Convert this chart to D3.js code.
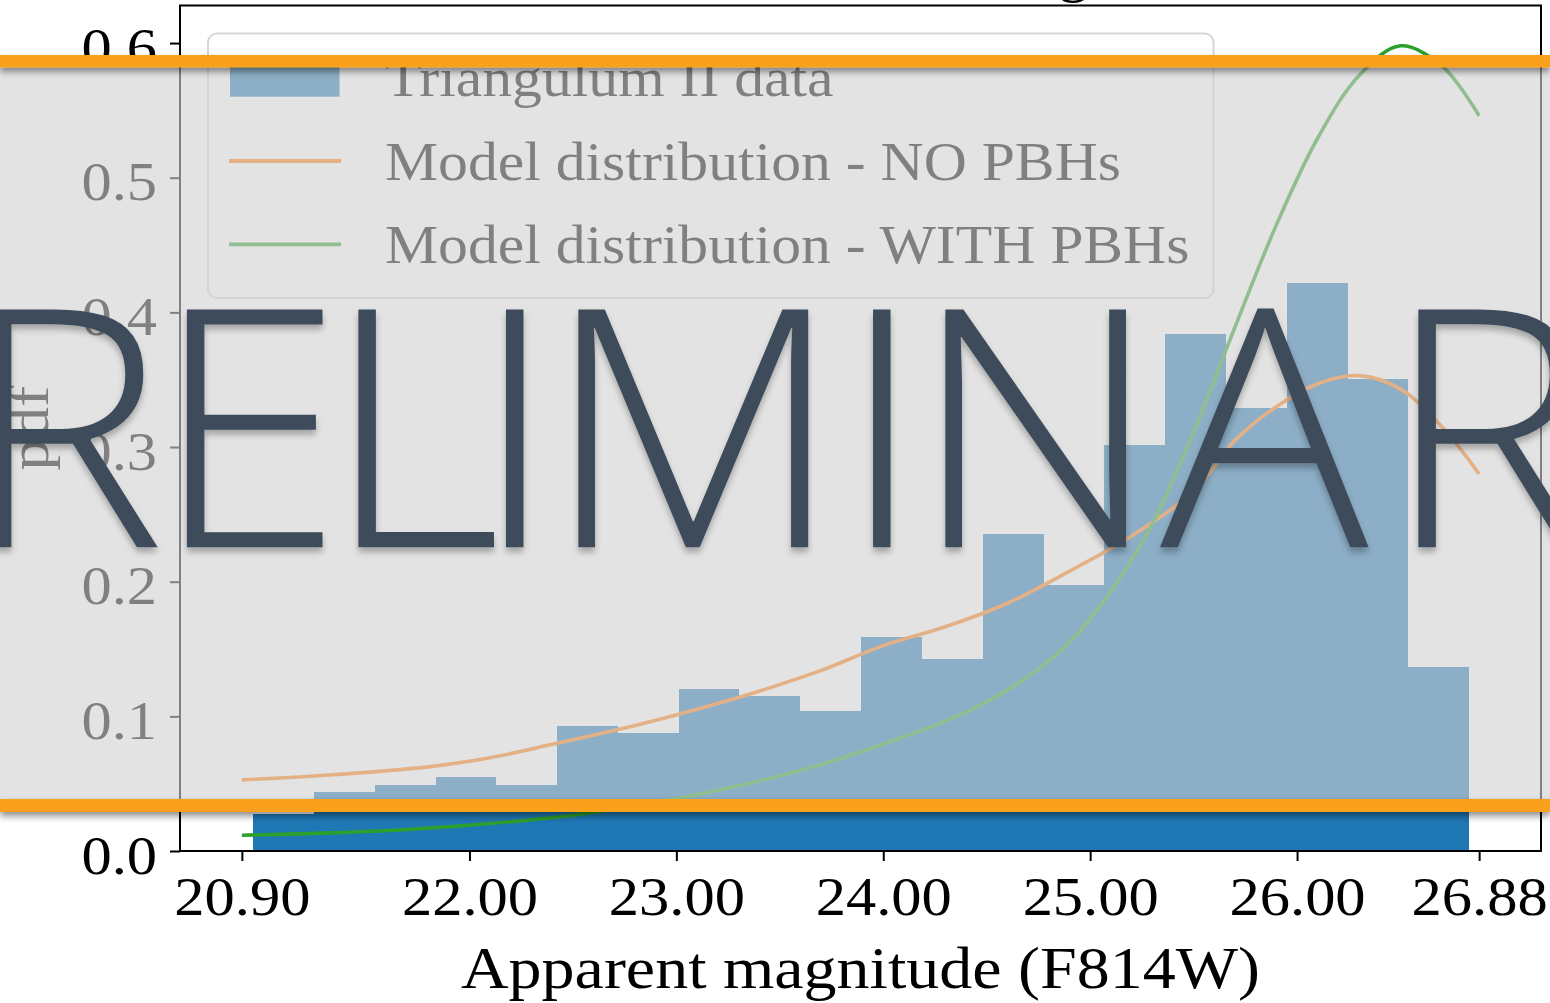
<!DOCTYPE html>
<html>
<head>
<meta charset="utf-8">
<script src="https://cdn.jsdelivr.net/npm/d3@7"></script>
<style>
  html, body { margin: 0; padding: 0; background: #ffffff; overflow: hidden; }
  svg { display: block; }
</style>
</head>
<body>
<svg id="fig" width="1550" height="1003"></svg>
<script>
// ---- Histogram of Triangulum II stars (density-normalised) ----
const binEdges = [20.955, 21.248, 21.542, 21.836, 22.130, 22.424, 22.718, 23.012,
                  23.305, 23.599, 23.893, 24.187, 24.481, 24.775, 25.069, 25.362,
                  25.656, 25.950, 26.244, 26.538, 26.832];
const binDensity = [0.0274, 0.0438, 0.0493, 0.0548, 0.0493, 0.0932, 0.0877, 0.1206,
                    0.1151, 0.1041, 0.1589, 0.1425, 0.2356, 0.1973, 0.3014, 0.3836,
                    0.3288, 0.4220, 0.3507, 0.1370];

// ---- Model distribution without primordial black holes ----
const noPbhMag = [20.90, 21.30, 21.80, 22.10, 22.40, 22.80, 23.10, 23.40, 23.70, 24.00, 24.30,
                  24.60, 24.90, 25.20, 25.50, 25.70, 25.90, 26.10, 26.30, 26.50, 26.70, 26.88];
const noPbhPdf = [0.0528, 0.0562, 0.0625, 0.0693, 0.0792, 0.0932, 0.1053, 0.1187, 0.1341, 0.1525, 0.1665,
                  0.1840, 0.2078, 0.2340, 0.2670, 0.3050, 0.3300, 0.3470, 0.3530, 0.3430, 0.3150, 0.2800];

// ---- Model distribution with primordial black holes ----
const withPbhMag = [20.90, 21.30, 21.70, 22.10, 22.50, 22.90, 23.30, 23.70, 24.10, 24.40, 24.70,
                    24.90, 25.10, 25.30, 25.50, 25.70, 25.90, 26.10, 26.30, 26.50, 26.70, 26.88];
const withPbhPdf = [0.0117, 0.0133, 0.0160, 0.0204, 0.0266, 0.0360, 0.0484, 0.0643, 0.0848, 0.1031, 0.1295,
                    0.1550, 0.1930, 0.2430, 0.3110, 0.3890, 0.4650, 0.5295, 0.5760, 0.5980, 0.5830, 0.5460];

// ---- Axes ticks and texts ----
const xTickValues = [20.90, 22.00, 23.00, 24.00, 25.00, 26.00, 26.88];
const yTickValues = [0.0, 0.1, 0.2, 0.3, 0.4, 0.5, 0.6];
const legendLabels = ["Triangulum II data", "Model distribution - NO PBHs", "Model distribution - WITH PBHs"];
const titleText = "Star distribution in Triangulum II";
const xLabelText = "Apparent magnitude (F814W)";
const yLabelText = "pdf";
const stampText = "PRELIMINARY";

const W = 1550, H = 1003;
const plot = { left: 180, right: 1541, top: 5.5, bottom: 851 };
const C = { blue: "#1f77b4", orange: "#ff7f0e", green: "#2ca02c" };
const serif = "'Liberation Serif', 'Times New Roman', serif";

const svg = d3.select("#fig");

// Book-style serif is a touch wider than Times: stretch each label a little
function widen(sel, k) {
  sel.each(function () {
    const n = this.getComputedTextLength();
    d3.select(this).attr("textLength", n * k).attr("lengthAdjust", "spacingAndGlyphs");
  });
}

// Scales: x padded 5% around the model range, y up to 1.05 x the highest curve
const xLo = xTickValues[0], xHi = xTickValues[xTickValues.length - 1];
const xPad = 0.05 * (xHi - xLo);
const x = d3.scaleLinear().domain([xLo - xPad, xHi + xPad]).range([plot.left, plot.right]);
const yMax = d3.max(withPbhPdf) * 1.05;
const y = d3.scaleLinear().domain([0, yMax]).range([plot.bottom, plot.top]);

const defs = svg.append("defs");
defs.append("clipPath").attr("id", "plotClip").append("rect")
  .attr("x", plot.left).attr("y", plot.top)
  .attr("width", plot.right - plot.left).attr("height", plot.bottom - plot.top);

const bandShadow = defs.append("filter").attr("id", "bandShadow")
  .attr("x", "-5%").attr("y", "-100%").attr("width", "110%").attr("height", "400%");
bandShadow.append("feDropShadow").attr("dx", 0).attr("dy", 4).attr("stdDeviation", 3.5)
  .attr("flood-color", "#000").attr("flood-opacity", 0.45);

const textShadow = defs.append("filter").attr("id", "textShadow")
  .attr("x", "-10%").attr("y", "-10%").attr("width", "120%").attr("height", "130%");
textShadow.append("feDropShadow").attr("dx", 0).attr("dy", 5).attr("stdDeviation", 3)
  .attr("flood-color", "#000").attr("flood-opacity", 0.28);

// ---------------- chart ----------------
const g = svg.append("g");

// title (sits above the figure top)
const title = g.append("text")
  .attr("x", (plot.left + plot.right) / 2).attr("y", -10)
  .attr("text-anchor", "middle")
  .attr("font-family", serif).attr("font-size", 60).attr("fill", "#000")
  .text(titleText);
widen(title, 1.03);

// histogram bars
const bins = binDensity.map((v, i) => ({ x0: binEdges[i], x1: binEdges[i + 1], v }));
g.append("g").attr("clip-path", "url(#plotClip)")
  .selectAll("rect").data(bins).join("rect")
  .attr("x", d => x(d.x0))
  .attr("width", d => x(d.x1) - x(d.x0))
  .attr("y", d => y(d.v))
  .attr("height", d => y(0) - y(d.v))
  .attr("fill", C.blue)
  .attr("shape-rendering", "crispEdges");

// model curves
const line = d3.line().x(d => x(d[0])).y(d => y(d[1])).curve(d3.curveCatmullRom.alpha(0.5));
const curves = g.append("g").attr("clip-path", "url(#plotClip)").attr("fill", "none")
  .attr("stroke-width", 3.6).attr("stroke-linejoin", "round");
curves.append("path").attr("d", line(d3.zip(noPbhMag, noPbhPdf))).attr("stroke", C.orange);
curves.append("path").attr("d", line(d3.zip(withPbhMag, withPbhPdf))).attr("stroke", C.green);

// axes
const xAxis = d3.axisBottom(x).tickValues(xTickValues).tickFormat(d3.format(".2f"))
  .tickSize(10).tickSizeOuter(0);
const gx = g.append("g").attr("transform", `translate(0,${plot.bottom})`).call(xAxis)
  .attr("font-family", serif).attr("font-size", 54);
gx.select(".domain").remove();
gx.selectAll(".tick line").attr("stroke", "#000").attr("stroke-width", 2);
gx.selectAll(".tick text").attr("y", 64).attr("dy", null).attr("fill", "#000");
widen(gx.selectAll(".tick text"), 1.12);

const yAxis = d3.axisLeft(y).tickValues(yTickValues).tickFormat(d3.format(".1f"))
  .tickSize(10).tickSizeOuter(0);
const gy = g.append("g").attr("transform", `translate(${plot.left},0)`).call(yAxis)
  .attr("font-family", serif).attr("font-size", 54);
gy.select(".domain").remove();
gy.selectAll(".tick line").attr("stroke", "#000").attr("stroke-width", 2);
gy.selectAll(".tick text").attr("x", -23).attr("y", 22).attr("dy", null).attr("fill", "#000");
widen(gy.selectAll(".tick text"), 1.12);

// spines
g.append("rect")
  .attr("x", plot.left).attr("y", plot.top)
  .attr("width", plot.right - plot.left).attr("height", plot.bottom - plot.top)
  .attr("fill", "none").attr("stroke", "#000").attr("stroke-width", 2);

// axis labels
const xl = g.append("text")
  .attr("x", (plot.left + plot.right) / 2).attr("y", 988)
  .attr("text-anchor", "middle").attr("font-family", serif).attr("font-size", 60)
  .text(xLabelText);
widen(xl, 1.1);

const yl = g.append("text")
  .attr("transform", `translate(48,${(plot.top + plot.bottom) / 2}) rotate(-90)`)
  .attr("text-anchor", "middle").attr("font-family", serif).attr("font-size", 58)
  .text(yLabelText);
widen(yl, 1.1);

// legend
const lg = g.append("g");
lg.append("rect")
  .attr("x", 208).attr("y", 33.5).attr("width", 1005.5).attr("height", 264.5).attr("rx", 9)
  .attr("fill", "#fff").attr("fill-opacity", 0.8)
  .attr("stroke", "#ccc").attr("stroke-opacity", 0.8).attr("stroke-width", 2);
const rowY = i => 77.7 + i * 83.3;
lg.append("rect").attr("x", 230).attr("y", rowY(0) - 19).attr("width", 109.5).attr("height", 38)
  .attr("fill", C.blue);
[C.orange, C.green].forEach((c, j) => {
  lg.append("line").attr("x1", 229).attr("x2", 341)
    .attr("y1", rowY(j + 1)).attr("y2", rowY(j + 1))
    .attr("stroke", c).attr("stroke-width", 3.8);
});
const lt = lg.selectAll("text.lab").data(legendLabels).join("text")
  .attr("class", "lab")
  .attr("x", 385).attr("y", (d, i) => rowY(i) + 18.5)
  .attr("font-family", serif).attr("font-size", 54).attr("fill", "#000")
  .text(d => d);
widen(lt, 1.105);

// ---------------- PRELIMINARY banner ----------------
const band = { top: 55, inner0: 67.5, inner1: 799, bottom: 812 };

svg.append("rect")
  .attr("x", 0).attr("y", band.inner0).attr("width", W).attr("height", band.inner1 - band.inner0)
  .attr("fill", "rgb(210,210,210)").attr("fill-opacity", 0.61);

// stamp lettering: cap height fills 310.7..547.3, letters set on a fixed pitch
const stampFamily = "'Open Sans', Lato, 'Noto Sans', sans-serif";
const capTop = 310.7, baseLine = 547.3;
// left ink edge of each letter, in page pixels (P and Y fall outside the page)
const stampInkLeft = { 1: -8.5, 2: 184.5, 3: 356, 4: 503.6, 5: 576, 6: 870.7, 7: 943, 8: 1160, 9: 1416 };
// ink widths of a few letters, used to set the horizontal proportion
const stampInkWidth = { 2: 129.3, 3: 121.7, 5: 245.2, 7: 187.4, 8: 228.9 };

const ctx = document.createElement("canvas").getContext("2d");
ctx.font = `300 100px ${stampFamily}`;
const capAt100 = ctx.measureText("E").actualBoundingBoxAscent || 71.6;
const fs = (baseLine - capTop) / capAt100 * 100;
ctx.font = `300 ${fs}px ${stampFamily}`;
const m = ch => ctx.measureText(ch);
const lsb = ch => -m(ch).actualBoundingBoxLeft;
const inkW = ch => m(ch).actualBoundingBoxLeft + m(ch).actualBoundingBoxRight;

let refSum = 0, fontSum = 0;
Object.keys(stampInkWidth).forEach(k => { refSum += stampInkWidth[k]; fontSum += inkW(stampText[k]); });
const sx = fontSum > 0 ? refSum / fontSum : 1;

const chars = stampText.split("");
const originX = new Array(chars.length);
Object.keys(stampInkLeft).forEach(k => { originX[+k] = stampInkLeft[k] / sx - lsb(chars[k]); });
// average extra gap between letters, from the fixed letters
const gapExtra = ((originX[9] - originX[2]) - (m(stampText.slice(0, 9)).width - m(stampText.slice(0, 2)).width)) / 7;
originX[0] = originX[1] - m(chars[0]).width - gapExtra;
originX[10] = originX[9] + m(chars[9]).width + gapExtra;

svg.append("text")
  .attr("transform", `scale(${sx},1)`)
  .attr("x", originX.map(v => v.toFixed(2)).join(" "))
  .attr("y", baseLine)
  .attr("font-family", stampFamily).attr("font-weight", 300).attr("font-size", fs)
  .attr("fill", "#3d4b5a")
  .attr("filter", "url(#textShadow)")
  .text(stampText);

svg.append("rect").attr("x", 0).attr("y", band.top).attr("width", W)
  .attr("height", band.inner0 - band.top).attr("fill", "#f9a11b").attr("filter", "url(#bandShadow)");
svg.append("rect").attr("x", 0).attr("y", band.inner1).attr("width", W)
  .attr("height", band.bottom - band.inner1).attr("fill", "#f9a11b").attr("filter", "url(#bandShadow)");
</script>
</body>
</html>
